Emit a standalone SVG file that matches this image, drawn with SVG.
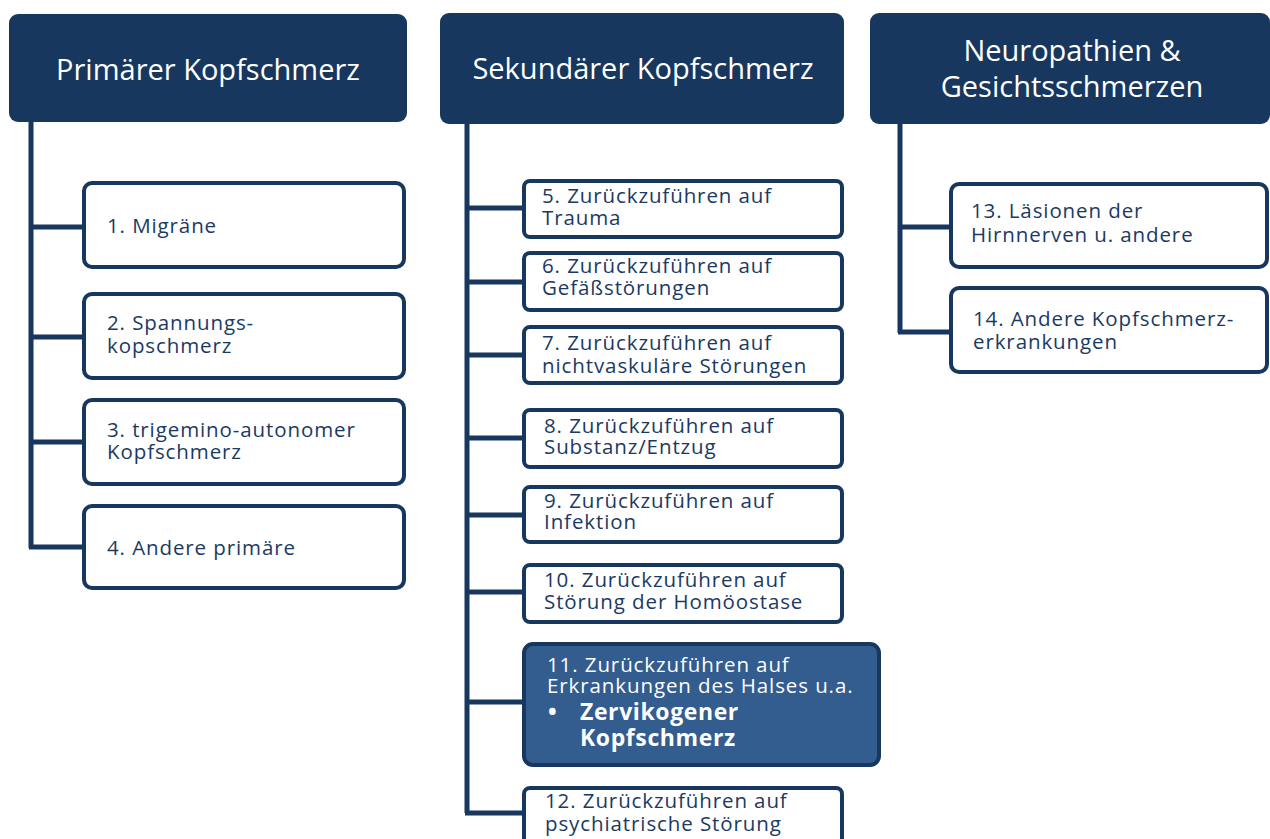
<svg xmlns="http://www.w3.org/2000/svg" width="1270" height="839" viewBox="0 0 1270 839">
<style>
.hdr{fill:#17375E}
.hdrt{fill:#FFFFFF;font-family:"Open Sans","Liberation Sans",sans-serif;font-size:29px;text-anchor:middle}
.box{fill:#FFFFFF;stroke:#17375E;stroke-width:4}
.hl{fill:#335C8F;stroke:#17375E;stroke-width:4}
.t{fill:#1A3A63;font-family:"Open Sans","Liberation Sans",sans-serif;font-size:20.5px;letter-spacing:0.9px}
.tw{fill:#FFFFFF;font-family:"Open Sans","Liberation Sans",sans-serif;font-size:20.5px;letter-spacing:0.9px}
.tb{fill:#FFFFFF;font-family:"Open Sans","Liberation Sans",sans-serif;font-size:23px;font-weight:bold;letter-spacing:0.6px}
.ln{fill:none;stroke:#17375E;stroke-width:5}
</style>
<rect width="1270" height="839" fill="#FFFFFF"/>
<g id="connectors">
<path class="ln" d="M31 122 V548 M29 227 H84 M29 337 H84 M29 442 H84 M29 547 H84"/>
<path class="ln" d="M467 124 V813 M465 208 H524 M465 282 H524 M465 355 H524 M465 438 H524 M465 515 H524 M465 592 H524 M465 702 H524 M465 813 H524"/>
<path class="ln" d="M900 124 V333 M898 227 H951 M898 332 H951"/>
</g>
<g id="h1"><rect class="hdr" x="9" y="14" width="398" height="108" rx="9"/><text class="hdrt" x="208" y="80">Primärer Kopfschmerz</text></g>
<g id="h2"><rect class="hdr" x="440" y="13" width="404" height="111" rx="9"/><text class="hdrt" x="643" y="79">Sekundärer Kopfschmerz</text></g>
<g id="h3"><rect class="hdr" x="870" y="13" width="400" height="111" rx="9"/><text class="hdrt"><tspan x="1072" y="61">Neuropathien &amp;</tspan><tspan x="1072" y="97">Gesichtsschmerzen</tspan></text></g>

<g id="n1"><rect class="box" x="84" y="183" width="320" height="84" rx="8"/><text class="t" x="107" y="233">1. Migräne</text></g>
<g id="n2"><rect class="box" x="84" y="294" width="320" height="84" rx="8"/><text class="t"><tspan x="107" y="330">2. Spannungs-</tspan><tspan x="107" y="353">kopschmerz</tspan></text></g>
<g id="n3"><rect class="box" x="84" y="400" width="320" height="84" rx="8"/><text class="t"><tspan x="107" y="437">3. trigemino-autonomer</tspan><tspan x="107" y="459">Kopfschmerz</tspan></text></g>
<g id="n4"><rect class="box" x="84" y="506" width="320" height="82" rx="8"/><text class="t" x="107" y="555">4. Andere primäre</text></g>

<g id="n5"><rect class="box" x="524" y="181" width="318" height="56" rx="6"/><text class="t"><tspan x="542" y="203">5. Zurückzuführen auf</tspan><tspan x="542" y="225">Trauma</tspan></text></g>
<g id="n6"><rect class="box" x="524" y="253" width="318" height="57" rx="6"/><text class="t"><tspan x="542" y="273">6. Zurückzuführen auf</tspan><tspan x="542" y="295">Gefäßstörungen</tspan></text></g>
<g id="n7"><rect class="box" x="524" y="327" width="318" height="56" rx="6"/><text class="t"><tspan x="542" y="350">7. Zurückzuführen auf</tspan><tspan x="542" y="373">nichtvaskuläre Störungen</tspan></text></g>
<g id="n8"><rect class="box" x="524" y="410" width="318" height="57" rx="6"/><text class="t"><tspan x="544" y="433">8. Zurückzuführen auf</tspan><tspan x="544" y="454">Substanz/Entzug</tspan></text></g>
<g id="n9"><rect class="box" x="524" y="487" width="318" height="55" rx="6"/><text class="t"><tspan x="544" y="508">9. Zurückzuführen auf</tspan><tspan x="544" y="529">Infektion</tspan></text></g>
<g id="n10"><rect class="box" x="524" y="565" width="318" height="57" rx="6"/><text class="t"><tspan x="544" y="587">10. Zurückzuführen auf</tspan><tspan x="544" y="609">Störung der Homöostase</tspan></text></g>
<g id="n11"><rect class="hl" x="524" y="644" width="355" height="121" rx="9"/><text class="tw"><tspan x="547" y="672">11. Zurückzuführen auf</tspan><tspan x="547" y="693">Erkrankungen des Halses u.a.</tspan></text><text class="tb"><tspan x="548" y="720">•</tspan><tspan x="580" y="720">Zervikogener</tspan><tspan x="580" y="746">Kopfschmerz</tspan></text></g>
<g id="n12"><rect class="box" x="524" y="788" width="318" height="60" rx="6"/><text class="t"><tspan x="545" y="808">12. Zurückzuführen auf</tspan><tspan x="545" y="831">psychiatrische Störung</tspan></text></g>

<g id="n13"><rect class="box" x="951" y="184" width="316" height="83" rx="8"/><text class="t"><tspan x="971" y="218">13. Läsionen der</tspan><tspan x="971" y="242">Hirnnerven u. andere</tspan></text></g>
<g id="n14"><rect class="box" x="951" y="288" width="316" height="84" rx="8"/><text class="t"><tspan x="973" y="326">14. Andere Kopfschmerz-</tspan><tspan x="973" y="349">erkrankungen</tspan></text></g>
</svg>
